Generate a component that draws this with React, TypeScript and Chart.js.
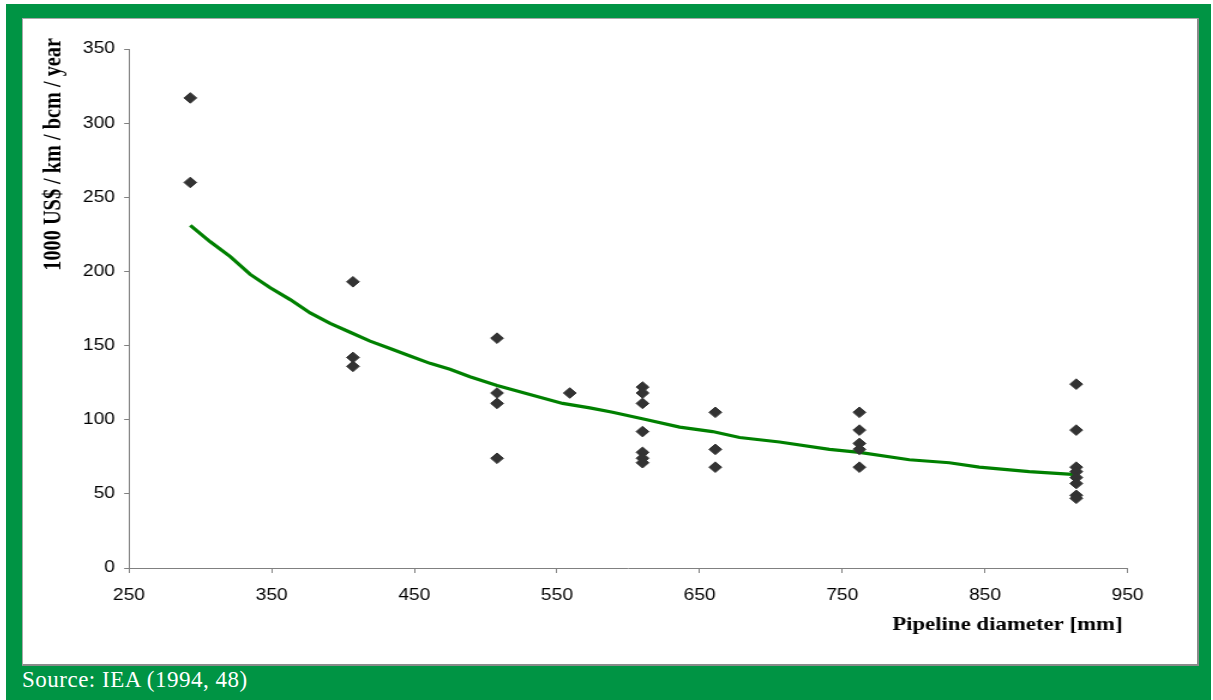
import React, { useEffect, useRef } from 'react';
import { Chart, registerables } from 'chart.js';

Chart.register(...registerables);

// Observed data points (pipeline diameter in mm, cost in 1000 US$ / km / bcm / year)
const diameters = [
  293, 293,
  407, 407, 407,
  508, 508, 508, 508,
  559,
  610, 610, 610, 610, 610, 610, 610,
  661, 661, 661,
  762, 762, 762, 762, 762,
  914, 914, 914, 914, 914, 914, 914, 914,
];
const costs = [
  317, 260,
  193, 142, 136,
  155, 118, 111, 74,
  118,
  122, 118, 111, 92, 78, 74, 71,
  105, 80, 68,
  105, 93, 84, 80, 68,
  124, 93, 68, 65, 61, 57, 49, 47,
];

// Trend line
const trendDiameters = [293, 307, 321, 335, 349, 363, 377, 391, 405, 419, 433, 447, 461, 475, 489, 508, 531, 554, 573, 589, 613, 636, 659, 678, 706, 741, 762, 797, 825, 846, 881, 914];
const trendCosts = [231, 220, 210, 198, 189, 181, 172, 165, 159, 153, 148, 143, 138, 134, 129, 123, 117, 111, 108, 105, 100, 95, 92, 88, 85, 80, 78, 73, 71, 68, 65, 63];

const xMin = 250;
const xMax = 950;
const xStep = 100;
const yMin = 0;
const yMax = 350;
const yStep = 50;

const xTitle = 'Pipeline diameter [mm]';
const yTitle = '1000 US$ / km / bcm / year';
const sourceText = 'Source: IEA (1994, 48)';

const STRETCH = 1.2;
const CSS_W = 1178;
const CSS_H = 649;
const INT_W = Math.round(CSS_W / STRETCH);

const titlePlugin = {
  id: 'axisTitlesCustom',
  afterDraw(chart: any) {
    const { ctx, chartArea } = chart;
    ctx.save();
    ctx.fillStyle = '#000000';
    ctx.font = 'bold 19px "Liberation Serif", "Times New Roman", serif';
    ctx.textAlign = 'right';
    ctx.textBaseline = 'alphabetic';
    ctx.fillText(xTitle, chartArea.right - 4.2, chartArea.bottom + 62);
    ctx.translate(26.7, chartArea.top - 11);
    ctx.rotate(-Math.PI / 2);
    ctx.font = 'bold 20.3px "Liberation Serif", "Times New Roman", serif';
    ctx.textAlign = 'right';
    ctx.textBaseline = 'middle';
    ctx.fillText(yTitle, 0, 0);
    ctx.restore();
  },
};

export default function App() {
  const canvasRef = useRef<HTMLCanvasElement | null>(null);

  useEffect(() => {
    if (!canvasRef.current) return;
    const points = diameters.map((d, i) => ({ x: d, y: costs[i] }));
    const trend = trendDiameters.map((d, i) => ({ x: d, y: trendCosts[i] }));
    const tickFont = { family: '"Liberation Sans", Arial, sans-serif', size: 16 };
    const chart = new Chart(canvasRef.current, {
      type: 'scatter',
      data: {
        datasets: [
          {
            label: 'Observations',
            data: points,
            pointStyle: 'rectRot',
            pointRadius: 5.3,
            pointBackgroundColor: '#333333',
            pointBorderColor: '#333333',
            pointBorderWidth: 1,
            showLine: false,
            order: 0,
          },
          {
            label: 'Trend',
            data: trend,
            showLine: true,
            borderColor: '#008000',
            borderWidth: 3.2,
            pointRadius: 0,
            tension: 0,
            fill: false,
            order: 1,
          },
        ],
      },
      options: {
        animation: false,
        responsive: false,
        devicePixelRatio: 1,
        layout: { padding: { top: 31, right: INT_W - 1106 / STRETCH, left: 0, bottom: 0 } },
        plugins: {
          legend: { display: false },
          tooltip: { enabled: false },
        },
        scales: {
          x: {
            type: 'linear',
            min: xMin,
            max: xMax,
            ticks: { stepSize: xStep, color: '#000000', font: tickFont, padding: 13, maxRotation: 0 },
            grid: { display: true, drawOnChartArea: false, drawTicks: true, tickLength: 5, color: '#808080' },
            border: { display: true, color: '#808080', width: 1 },
            afterFit: (s: any) => { s.height = CSS_H - 550; },
          },
          y: {
            type: 'linear',
            min: yMin,
            max: yMax,
            ticks: { stepSize: yStep, color: '#000000', font: tickFont, padding: 7.7 },
            grid: { display: true, drawOnChartArea: false, drawTicks: true, tickLength: 4, color: '#808080' },
            border: { display: true, color: '#808080', width: 1 },
            afterFit: (s: any) => { s.width = 107 / STRETCH; },
          },
        },
      },
      plugins: [titlePlugin],
    } as any);
    return () => chart.destroy();
  }, []);

  return (
    <div style={{ position: 'fixed', left: 0, top: 0, width: 1213, height: 700, background: '#ffffff', overflow: 'hidden' }}>
      <div style={{ position: 'absolute', left: 6, top: 4, width: 1205, height: 696, background: '#009444' }} />
      <div
        style={{
          position: 'absolute',
          left: 22,
          top: 18,
          width: 1177,
          height: 648,
          background: '#ffffff',
          borderTop: '1px solid #a8a8a8',
          borderLeft: '1px solid #a8a8a8',
          borderRight: '2px solid #8a8a8a',
          borderBottom: '2px solid #8a8a8a',
          boxSizing: 'border-box',
        }}
      />
      <canvas
        ref={canvasRef}
        width={INT_W}
        height={CSS_H}
        style={{ position: 'absolute', left: 22, top: 18, width: CSS_W, height: CSS_H }}
      />
      <div
        style={{
          position: 'absolute',
          left: 22,
          top: 668,
          color: '#ffffff',
          fontFamily: '"Liberation Serif", "Times New Roman", serif',
          fontSize: 23,
          lineHeight: '23px',
          letterSpacing: '0.5px',
          whiteSpace: 'nowrap',
        }}
      >
        {sourceText}
      </div>
    </div>
  );
}
